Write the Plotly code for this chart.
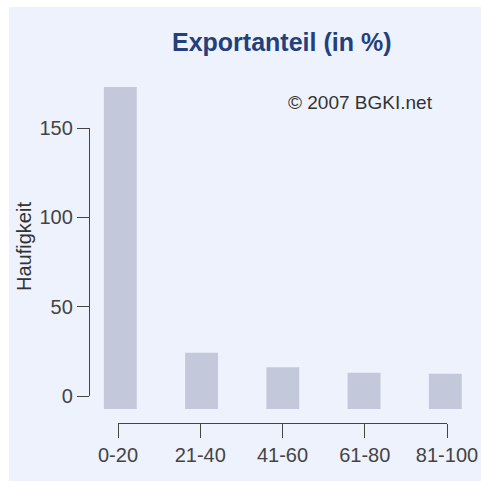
import plotly.graph_objects as go

# ---- data ----
categories = ["0-20", "21-40", "41-60", "61-80", "81-100"]
counts = [173, 24.2, 16.1, 13.0, 12.5]
bar_base = -7.3
y_ticks = [0, 50, 100, 150]

title_text = "Exportanteil (in %)"
y_title = "Haufigkeit"
credit = "© 2007 BGKI.net"

W = H = 481
FONT = "Liberation Sans, Arial, sans-serif"
PANEL = "#EEF2FD"
BAR = "#C3C9DB"
AX = "#444444"
TXT = "#444444"


def fx(p):
    return p / W


def fy(p):
    return 1 - p / H


# pixel geometry of bar subplot
bx0, bx1 = 95, 475
c0, step = 120.3, 81.25
by_top, by_bot = 60, 420
zero_px, ppu = 396, 268 / 150

fig = go.Figure()
fig.add_trace(go.Bar(
    x=list(range(len(categories))),
    y=[c - bar_base for c in counts],
    base=bar_base,
    width=0.405,
    marker=dict(color=BAR, line=dict(width=0)),
    xaxis="x", yaxis="y",
    hoverinfo="skip",
))
# dummy trace for the display axes
fig.add_trace(go.Scatter(x=[None], y=[None], xaxis="x2", yaxis="y2",
                         mode="markers", showlegend=False, hoverinfo="skip"))

fig.update_layout(
    width=W, height=H, autosize=False,
    margin=dict(l=0, r=0, t=0, b=0, pad=0, autoexpand=False),
    paper_bgcolor="white",
    plot_bgcolor="rgba(0,0,0,0)",
    showlegend=False,
    font=dict(family=FONT, color=TXT),
    xaxis=dict(
        domain=[fx(bx0), fx(bx1)],
        range=[(bx0 - c0) / step, (bx1 - c0) / step],
        visible=False, fixedrange=True, automargin=False,
    ),
    yaxis=dict(
        domain=[fy(by_bot), fy(by_top)],
        range=[(zero_px - by_bot) / ppu, (zero_px - by_top) / ppu],
        visible=False, fixedrange=True, automargin=False,
    ),
    xaxis2=dict(
        domain=[fx(118), fx(447)],
        range=[0, len(categories) - 1],
        anchor="free", position=fy(423),
        tickvals=list(range(len(categories))),
        ticktext=categories,
        showline=True, linecolor=AX, linewidth=1.3,
        ticks="outside", ticklen=14, tickwidth=1.3, tickcolor=AX,
        showgrid=False, zeroline=False,
        tickfont=dict(size=20, family=FONT, color=TXT),
        fixedrange=True, automargin=False,
    ),
    yaxis2=dict(
        domain=[fy(zero_px), fy(128)],
        range=[0, 150],
        anchor="free", position=fx(89),
        tickvals=y_ticks,
        showline=True, linecolor=AX, linewidth=1.3,
        ticks="outside", ticklen=12, tickwidth=1.3, tickcolor=AX,
        showgrid=False, zeroline=False,
        tickfont=dict(size=20, family=FONT, color=TXT),
        fixedrange=True, automargin=False,
    ),
    shapes=[dict(
        type="rect", xref="paper", yref="paper",
        x0=fx(9), x1=1, y0=0, y1=fy(7),
        fillcolor=PANEL, line=dict(width=0), layer="below",
    )],
    annotations=[
        dict(text="<b>" + title_text + "</b>", xref="paper", yref="paper",
             x=fx(281), y=fy(42), showarrow=False,
             font=dict(size=25, family=FONT, color="#233F7C"),
             xanchor="center", yanchor="middle"),
        dict(text=credit, xref="paper", yref="paper",
             x=fx(360), y=fy(102), showarrow=False,
             font=dict(size=19, family=FONT, color="#333333"),
             xanchor="center", yanchor="middle"),
        dict(text=y_title, xref="paper", yref="paper",
             x=fx(24), y=fy(247), showarrow=False, textangle=-90,
             font=dict(size=20, family=FONT, color="#333333"),
             xanchor="center", yanchor="middle"),
    ],
)

fig.write_html(
    "out.html",
    config={"displayModeBar": False},
    post_script="document.body.style.margin='0px';document.body.style.overflow='hidden';",
)
